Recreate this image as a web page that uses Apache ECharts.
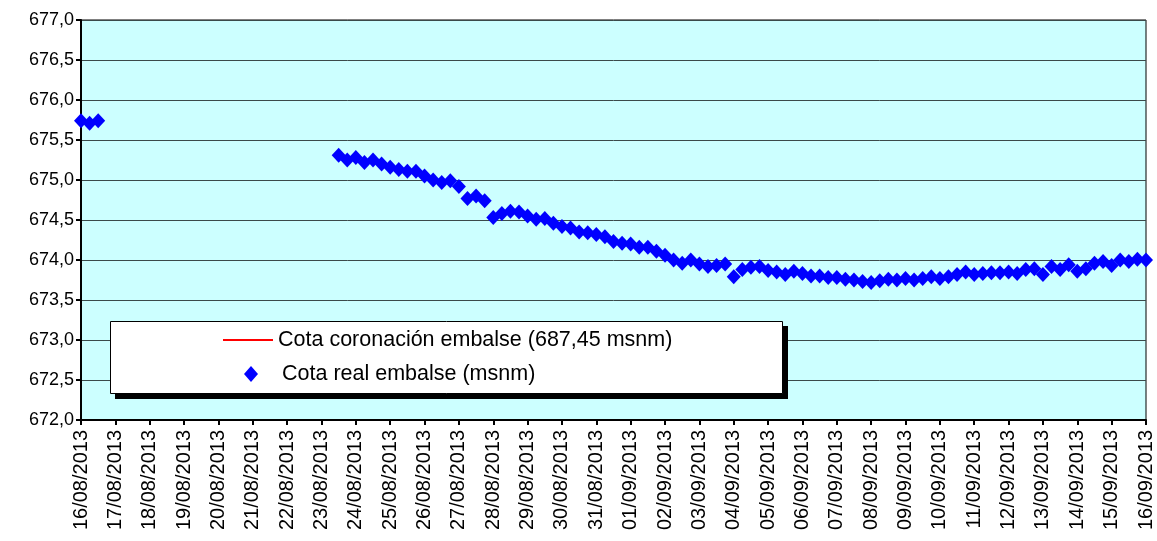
<!DOCTYPE html>
<html>
<head>
<meta charset="utf-8">
<script src="https://cdn.jsdelivr.net/npm/echarts@6/dist/echarts.min.js"></script>
<style>
html,body{margin:0;padding:0;background:#fff;}
#chart{width:1157px;height:541px;}
</style>
</head>
<body>
<div id="chart"></div>
<script>
// Day tick labels (one every day)
const dayLabels = [
  '16/08/2013','17/08/2013','18/08/2013','19/08/2013','20/08/2013','21/08/2013','22/08/2013','23/08/2013',
  '24/08/2013','25/08/2013','26/08/2013','27/08/2013','28/08/2013','29/08/2013','30/08/2013','31/08/2013',
  '01/09/2013','02/09/2013','03/09/2013','04/09/2013','05/09/2013','06/09/2013','07/09/2013','08/09/2013',
  '09/09/2013','10/09/2013','11/09/2013','12/09/2013','13/09/2013','14/09/2013','15/09/2013','16/09/2013'
];
// Reading hours within each day (6-hourly readings)
const readingHours = ['00:00','06:00','12:00','18:00'];

// Real reservoir level (msnm), one value per 6-hour slot; null = no reading
const realLevel = [
  675.74, 675.71, 675.74, null,                 // 16/08
  null, null, null, null,                       // 17/08
  null, null, null, null,                       // 18/08
  null, null, null, null,                       // 19/08
  null, null, null, null,                       // 20/08
  null, null, null, null,                       // 21/08
  null, null, null, null,                       // 22/08
  null, null, 675.31, 675.25,                   // 23/08
  675.28, 675.22, 675.25, 675.20,               // 24/08
  675.16, 675.13, 675.11, 675.11,               // 25/08
  675.05, 675.00, 674.97, 674.99,               // 26/08
  674.92, 674.77, 674.80, 674.74,               // 27/08
  674.53, 674.58, 674.61, 674.60,               // 28/08
  674.55, 674.51, 674.52, 674.46,               // 29/08
  674.42, 674.40, 674.35, 674.34,               // 30/08
  674.32, 674.29, 674.23, 674.21,               // 31/08
  674.20, 674.16, 674.16, 674.11,               // 01/09
  674.06, 674.00, 673.96, 674.00,               // 02/09
  673.95, 673.92, 673.93, 673.95,               // 03/09
  673.79, 673.88, 673.91, 673.92,               // 04/09
  673.87, 673.85, 673.82, 673.86,               // 05/09
  673.83, 673.80, 673.80, 673.78,               // 06/09
  673.78, 673.76, 673.75, 673.73,               // 07/09
  673.72, 673.74, 673.76, 673.75,               // 08/09
  673.77, 673.75, 673.77, 673.79,               // 09/09
  673.77, 673.79, 673.82, 673.85,               // 10/09
  673.82, 673.83, 673.84, 673.84,               // 11/09
  673.85, 673.83, 673.88, 673.89,               // 12/09
  673.82, 673.92, 673.88, 673.94,               // 13/09
  673.86, 673.89, 673.96, 673.98,               // 14/09
  673.93, 674.00, 673.98, 674.01,               // 15/09
  674.00                                        // 16/09
];
// Crest level of the dam (constant)
const crestLevel = 687.45;

const seriesNames = ['Cota coronación embalse (687,45 msnm)', 'Cota real embalse (msnm)'];

// Build category axis (6-hourly slots)
const categories = [];
dayLabels.forEach((d, di) => {
  readingHours.forEach((h, hi) => {
    if (di === dayLabels.length - 1 && hi > 0) return;
    categories.push(d + ' ' + h);
  });
});
const scatterData = [];
realLevel.forEach((v, i) => { if (v !== null) scatterData.push([i, v]); });
const crestData = categories.map(() => crestLevel);

const FONT = 'Liberation Sans, Arial, sans-serif';
const chart = echarts.init(document.getElementById('chart'), null, {renderer: 'canvas'});
chart.setOption({
  animation: false,
  backgroundColor: '#ffffff',
  grid: {
    left: 81, right: 11, top: 20, bottom: 121,
    show: true, backgroundColor: '#CCFFFF', borderColor: '#000000', borderWidth: 1
  },
  graphic: [
    {
      type: 'rect', z: 10,
      shape: {x: 115, y: 326, width: 673, height: 73},
      style: {fill: '#000000'}
    },
    {
      type: 'rect', z: 11,
      shape: {x: 110.5, y: 321.5, width: 672, height: 72},
      style: {fill: '#ffffff', stroke: '#000000', lineWidth: 1}
    }
  ],
  legend: [
    {
      z: 20,
      orient: 'vertical',
      left: 222, top: 329,
      padding: 0,
      data: [{name: seriesNames[0], itemStyle: {opacity: 0}}],
      itemWidth: 50, itemHeight: 14,
      textStyle: {fontFamily: FONT, fontSize: 21.5, color: '#000'}
    },
    {
      z: 20,
      orient: 'vertical',
      left: 244, top: 363,
      padding: 0,
      data: [seriesNames[1]],
      itemWidth: 14, itemHeight: 16,
      itemStyle: {opacity: 1},
      textStyle: {fontFamily: FONT, fontSize: 21.5, color: '#000', padding: [0, 0, 0, 19]}
    }
  ],
  xAxis: {
    type: 'category',
    data: categories,
    boundaryGap: false,
    axisLine: {lineStyle: {color: '#000', width: 2}},
    axisTick: {show: true, interval: (i) => i % 4 === 0, length: 5, lineStyle: {color: '#000', width: 2}},
    axisLabel: {
      interval: (i) => i % 4 === 0,
      rotate: 90, margin: 10,
      fontFamily: FONT, fontSize: 20, color: '#000',
      formatter: (v) => v.split(' ')[0]
    },
    splitLine: {show: false}
  },
  yAxis: {
    type: 'value',
    min: 672, max: 677, interval: 0.5,
    axisLine: {show: true, lineStyle: {color: '#000', width: 2}},
    axisTick: {show: true, length: 5, lineStyle: {color: '#000', width: 2}},
    axisLabel: {
      margin: 7,
      fontFamily: FONT, fontSize: 18, color: '#000',
      formatter: (v) => v.toFixed(1).replace('.', ',')
    },
    splitLine: {show: true, lineStyle: {color: '#3a4a4a', width: 1}}
  },
  series: [
    {
      name: seriesNames[0],
      type: 'line',
      data: crestData,
      symbol: 'none',
      color: '#ff0000',
      lineStyle: {color: '#ff0000', width: 2},
      clip: true
    },
    {
      name: seriesNames[1],
      type: 'scatter',
      data: scatterData,
      symbol: 'diamond',
      symbolSize: [14, 15],
      color: '#0000ff',
      itemStyle: {color: '#0000ff', opacity: 1}
    }
  ]
});
</script>
</body>
</html>
